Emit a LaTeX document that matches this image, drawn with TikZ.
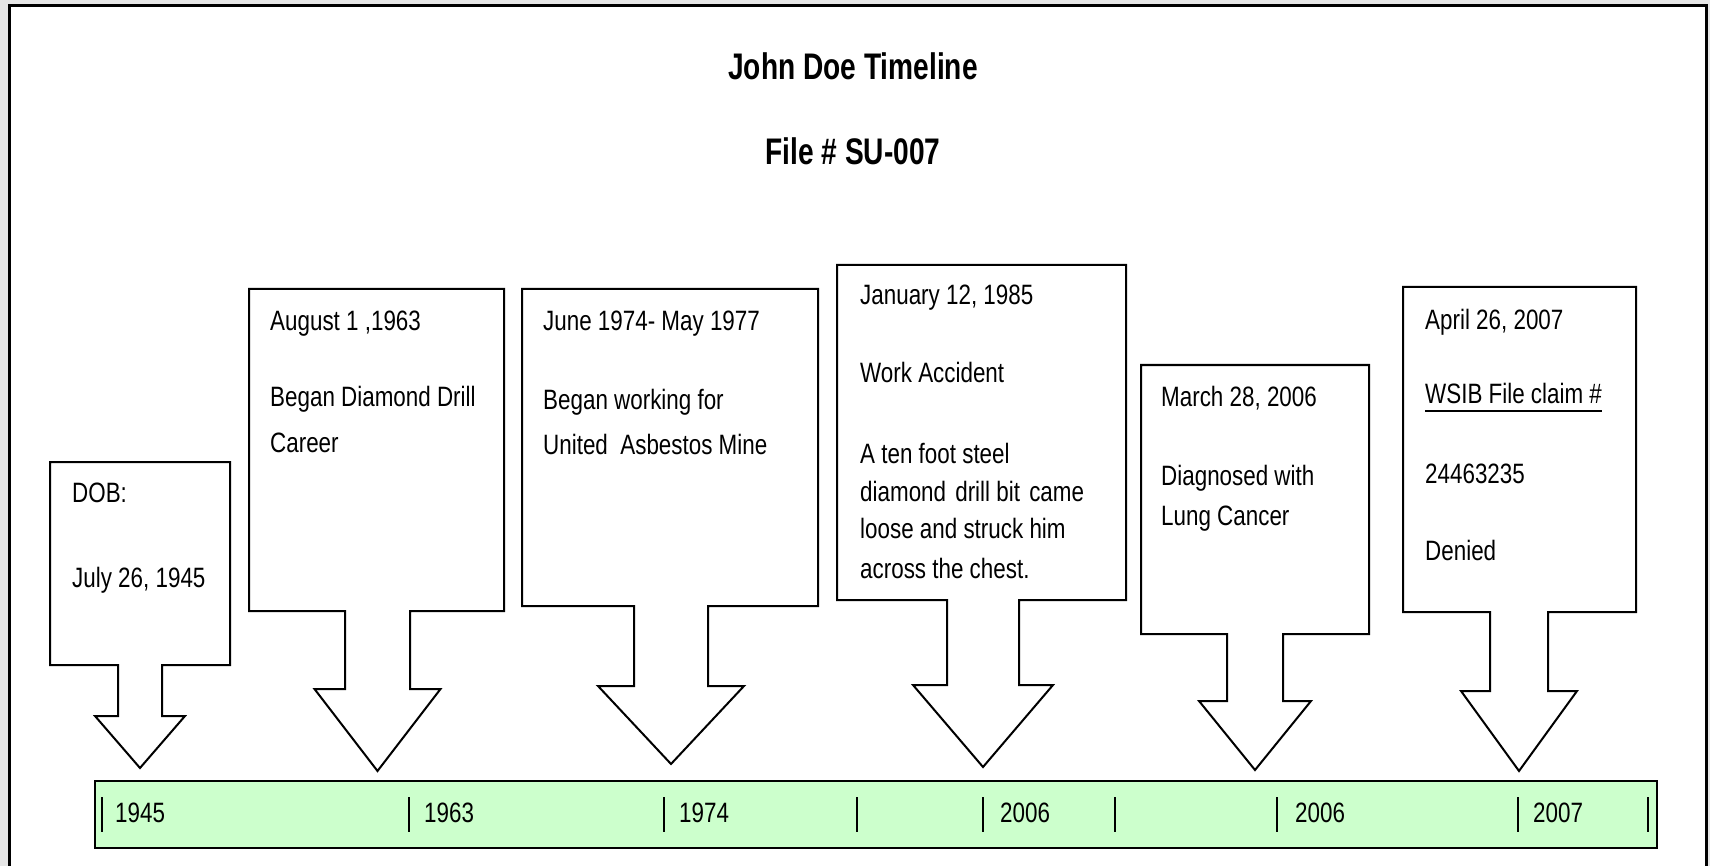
\documentclass[tikz,border=0pt]{standalone}
\usepackage{fontspec}
\newfontfamily\bodyfont[FakeStretch=0.8]{Liberation Sans}
\newfontfamily\titlefont[FakeStretch=0.76]{Liberation Sans}
\definecolor{bargreen}{HTML}{CCFFCC}
\definecolor{bggray}{HTML}{E6E6E6}
\newcommand\mycallout[9]{%
  \draw[callout] (#1,#2) -- (#3,#2) -- (#3,#4) -- (#6,#4) -- (#6,#7)
    -- ({(#5+#6)/2+#8},#7) -- ({(#5+#6)/2},#9) -- ({(#5+#6)/2-#8},#7)
    -- (#5,#7) -- (#5,#4) -- (#1,#4) -- cycle;}
\begin{document}
\begin{tikzpicture}[x=1pt,y=-1pt,
  callout/.style={draw=black,line width=2pt,fill=white,line join=miter},
  body/.style={font=\bodyfont\fontsize{28}{34}\selectfont,anchor=base west,inner sep=0pt},
  ttl/.style={font=\titlefont\bfseries\fontsize{37}{44}\selectfont,anchor=base,inner sep=0pt},
  tickmark/.style={line width=1.6pt}]
\useasboundingbox (0,0) rectangle (1710,866);
\clip (0,0) rectangle (1710,866);
\fill[bggray] (0,0) rectangle (1710,866);
\fill[white] (9,6) rectangle (1706,880);
\draw[line width=3pt] (9,880) -- (9,6) -- (1706,6) -- (1706,880);

% titles
\node[ttl] (title) at (853,80) {John Doe Timeline};
\node[ttl] (file) at (853,165) {File \# SU-007};

% callouts
\mycallout{50}{462}{230}{665}{118}{162}{716}{45}{768}
\mycallout{249}{289}{504}{611}{345}{410}{689}{63}{771}
\mycallout{522}{289}{818}{606}{634}{708}{686}{73}{764}
\mycallout{837}{265}{1126}{600}{947}{1019}{685}{70}{767}
\mycallout{1141}{365}{1369}{634}{1227}{1283}{701}{56}{770}
\mycallout{1403}{287}{1636}{612}{1490}{1548}{691}{58}{771}

% box texts
\node[body] (a1) at (72,502) {DOB:};
\node[body] (a2) at (72,587) {July 26, 1945};

\node[body] (b1) at (270,331) {August 1 ,1963};
\node[body] (b2) at (270,406) {Began Diamond Drill};
\node[body] (b3) at (270,452) {Career};

\node[body] (c1) at (543,331) {June 1974- May 1977};
\node[body] (c2) at (543,409) {Began working for};
\node[body] (c3) at (543,454) {United\ \ Asbestos Mine};

\node[body] (d1) at (860,305) {January 12, 1985};
\node[body] (d2) at (860,382) {Work Accident};
\node[body] (d3) at (860,463) {A ten foot steel};
\node[body] (d4) at (860,501) {diamond\hspace{3pt} drill bit\hspace{3pt} came};
\node[body] (d5) at (860,538) {loose and struck him};
\node[body] (d6) at (860,578) {across the chest.};

\node[body] (e1) at (1161,406) {March 28, 2006};
\node[body] (e2) at (1161,485) {Diagnosed with};
\node[body] (e3) at (1161,525) {Lung Cancer};

\node[body] (f1) at (1425,330) {April 26, 2007};
\node[body] (f2) at (1425,403) {WSIB File claim \#};
\draw[line width=1.5pt] ([yshift=-8pt]f2.base west) -- ([yshift=-8pt]f2.base east);
\node[body] (f3) at (1425,483) {24463235};
\node[body] (f4) at (1425,560) {Denied};

% timeline bar
\draw[line width=2pt,fill=bargreen] (95,781) rectangle (1657,848);
\foreach \tx in {102,409,664,857,983,1115,1277,1518,1648}
  \draw[tickmark] (\tx,797) -- (\tx,832);
\node[body] (y1) at (115,822) {1945};
\node[body] (y2) at (424,822) {1963};
\node[body] (y3) at (679,822) {1974};
\node[body] (y4) at (1000,822) {2006};
\node[body] (y5) at (1295,822) {2006};
\node[body] (y6) at (1533,822) {2007};
\end{tikzpicture}
\end{document}
